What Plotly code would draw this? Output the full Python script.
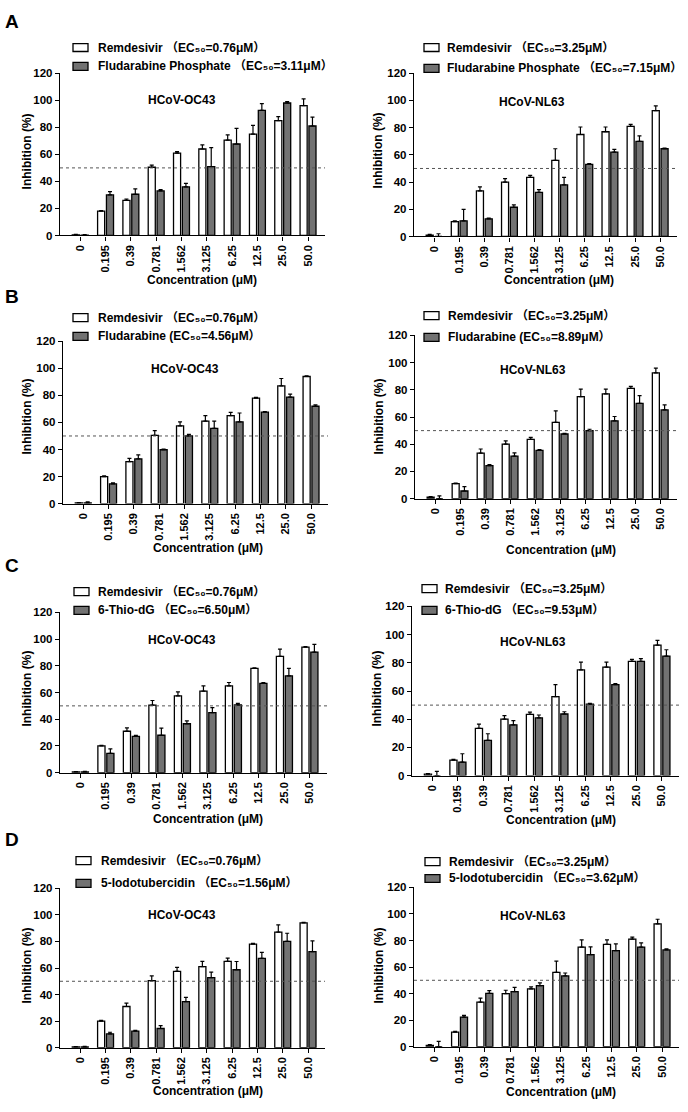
import plotly.graph_objects as go

# ---------------- data ----------------
conc = ["0", "0.195", "0.39", "0.781", "1.562", "3.125", "6.25", "12.5", "25.0", "50.0"]

rdv_oc43_A = [0.5, 18, 26, 50.5, 61, 64, 70.5, 75, 85, 96]
rdv_oc43_A_err = [0.3, 0.5, 1, 1.5, 1, 3, 4, 6.5, 3, 5]
fp_oc43 = [0.3, 30, 30.5, 33, 36, 51, 67.7, 92.5, 98, 81]
fp_oc43_err = [0.3, 2.5, 4, 1, 2.5, 14, 11.5, 5, 1, 6.5]

rdv_nl63 = [1, 11, 33.5, 40, 43.5, 56, 75, 77, 81, 92.5]
rdv_nl63_err = [0.5, 0.5, 3, 2.5, 1.5, 8.5, 5.5, 3.5, 1.5, 3.5]
fp_nl63 = [0, 11.5, 13, 21.5, 32.5, 38, 53, 62, 70, 64.5]
fp_nl63_err = [2, 8.5, 0.5, 1.7, 2, 5.5, 0.5, 2, 4, 0.5]

rdv_oc43 = [0.5, 20, 31, 50.5, 57.5, 61, 65, 78, 87, 94]
rdv_oc43_err = [0.3, 0.5, 2.5, 3.5, 3, 4, 2.5, 0.5, 5.5, 0.4]

flu_oc43 = [0.5, 14.6, 33, 39.8, 50, 55.6, 60.5, 67.6, 78.8, 72]
flu_oc43_err = [0.8, 0.8, 3, 0.5, 1.2, 5.4, 6.5, 0.5, 2.2, 1]
flu_nl63 = [0, 5.6, 24.3, 31.2, 35.5, 47.5, 50, 57.2, 70, 65.2]
flu_nl63_err = [2, 3.2, 0.7, 2.4, 0.5, 0.5, 1, 3.2, 5.7, 3.7]

tdg_oc43 = [0.5, 14.4, 27.2, 28, 36.6, 45, 50.7, 66.8, 72.5, 90.3]
tdg_oc43_err = [0.5, 3.4, 0.7, 5.4, 2.2, 3.7, 1.2, 0.7, 5.5, 5.7]
tdg_nl63 = [0, 9.6, 25, 36, 41, 43.7, 50.7, 64.6, 81, 84.8]
tdg_nl63_err = [3, 5.9, 4.7, 3, 2, 1.6, 0.5, 0.7, 2, 4.5]

itu_oc43 = [0.5, 10.4, 12.4, 14.4, 34.6, 52.7, 58.7, 67.3, 80, 72.3]
itu_oc43_err = [0.5, 1.2, 0.7, 2.2, 3.2, 4.2, 6.2, 4.5, 6.2, 8.2]
itu_nl63 = [0, 22.3, 40.2, 41.4, 45.9, 53.3, 69.4, 72.4, 75, 72.9]
itu_nl63_err = [4, 1.2, 2, 3.2, 2.2, 2.2, 5.7, 5, 3.2, 0.7]

y_ticks = [0, 20, 40, 60, 80, 100, 120]

rdv_label_oc43 = "Remdesivir （EC₅₀=0.76μM）"
rdv_label_nl63 = "Remdesivir （EC₅₀=3.25μM）"
cmp_labels = [
    "Fludarabine Phosphate （EC₅₀=3.11μM）",
    "Fludarabine Phosphate （EC₅₀=7.15μM）",
    "Fludarabine (EC₅₀=4.56μM）",
    "Fludarabine (EC₅₀=8.89μM）",
    "6-Thio-dG （EC₅₀=6.50μM）",
    "6-Thio-dG （EC₅₀=9.53μM）",
    "5-Iodotubercidin （EC₅₀=1.56μM）",
    "5-Iodotubercidin （EC₅₀=3.62μM）",
]
virus = ["HCoV-OC43", "HCoV-NL63"] * 4
panel_letters = ["A", "B", "C", "D"]

series = [
    (rdv_oc43_A, rdv_oc43_A_err, fp_oc43, fp_oc43_err),
    (rdv_nl63, rdv_nl63_err, fp_nl63, fp_nl63_err),
    (rdv_oc43, rdv_oc43_err, flu_oc43, flu_oc43_err),
    (rdv_nl63, rdv_nl63_err, flu_nl63, flu_nl63_err),
    (rdv_oc43, rdv_oc43_err, tdg_oc43, tdg_oc43_err),
    (rdv_nl63, rdv_nl63_err, tdg_nl63, tdg_nl63_err),
    (rdv_oc43, rdv_oc43_err, itu_oc43, itu_oc43_err),
    (rdv_nl63, rdv_nl63_err, itu_nl63, itu_nl63_err),
]

# ---------------- layout geometry (screen pixels) ----------------
W, H = 688, 1112
def px(x):
    return x / W
def py(y):
    return 1 - y / H

# plot area: x0, x1, ytop(120), ybottom(0)
areas = [
    (60, 325, 68, 232), (414, 677, 68, 233),
    (63, 328, 339, 503), (415, 677, 333, 498),
    (60, 327, 613, 775), (412, 679, 607, 778),
    (60, 325, 892, 1053), (414, 679, 891, 1052),
]
# legend: box x0, row1 center y, row2 center y, text x
legend_pos = [
    (73, 42, 61, 96), (424, 42, 63, 445),
    (73, 315, 334, 96), (424, 313, 335, 446),
    (74, 592, 611, 96), (422, 589, 611, 443),
    (76, 864, 887, 99), (425, 865, 882, 447),
]
title_pos = [(182, 95), (532, 97), (185, 367), (533, 368),
             (182, 641), (533, 643), (182, 919), (533, 920)]
ytitle_pos = [(27, 147), (378, 146), (27, 415), (379, 415),
              (27, 690), (377, 690), (27, 970), (379, 970)]
xtitle_pos = [(202, 277), (559, 277), (208, 548), (561, 550),
              (208, 822), (561, 823), (208, 1097), (561, 1098)]
letter_pos = [(3, 16), (3, 294), (3, 566), (3, 843)]

FONT = "Arial, Liberation Sans, DejaVu Sans, Noto Sans CJK SC, sans-serif"
GRAY = "#727272"

fig = go.Figure()
layout = dict(
    width=W, height=H,
    margin=dict(l=0, r=0, t=0, b=0),
    paper_bgcolor="white", plot_bgcolor="white",
    showlegend=False,
    barmode="group", bargap=0.3, bargroupgap=0.2,
    font=dict(family=FONT, color="black"),
)
annotations = []
shapes = []

def bold(size):
    return dict(family=FONT, size=size, color="black", weight="bold")

for i in range(8):
    k = "" if i == 0 else str(i + 1)
    xa, ya = "x" + k, "y" + k
    x0, x1, yt, yb = areas[i]
    r, rerr, c, cerr = series[i]
    fig.add_trace(go.Bar(
        x=conc, y=r, xaxis=xa, yaxis=ya,
        marker=dict(color="white", line=dict(color="black", width=1.3)),
        error_y=dict(type="data", symmetric=False, array=rerr,
                     arrayminus=[0] * len(rerr), color="black",
                     thickness=1.2, width=2),
    ))
    fig.add_trace(go.Bar(
        x=conc, y=c, xaxis=xa, yaxis=ya,
        marker=dict(color=GRAY, line=dict(color="black", width=1.3)),
        error_y=dict(type="data", symmetric=False, array=cerr,
                     arrayminus=[0] * len(cerr), color="black",
                     thickness=1.2, width=2),
    ))
    layout["xaxis" + k] = dict(
        domain=[px(x0), px(x1)], anchor=ya, type="category",
        categoryorder="array", categoryarray=conc,
        range=[-0.8, 9.67],
        showline=True, linecolor="black", linewidth=1.4,
        ticks="outside", ticklen=4, tickwidth=1.1, tickcolor="black",
        tickangle=-90, showgrid=False, zeroline=False,
        tickfont=bold(11),
    )
    layout["yaxis" + k] = dict(
        domain=[py(yb), py(yt)], anchor=xa, range=[0, 120],
        tickvals=y_ticks,
        showline=True, linecolor="black", linewidth=1.4,
        ticks="outside", ticklen=4, tickwidth=1.1, tickcolor="black",
        showgrid=False, zeroline=False,
        tickfont=bold(11.5),
    )
    shapes.append(dict(type="line", xref=xa + " domain", yref=ya,
                       x0=0, x1=1, y0=50, y1=50,
                       line=dict(color="#555555", width=1, dash="dot")))
    bx, r1, r2, tx = legend_pos[i]
    for yc, fill, lab in ((r1, "white", rdv_label_oc43 if i % 2 == 0 else rdv_label_nl63),
                          (r2, GRAY, cmp_labels[i])):
        shapes.append(dict(type="rect", xref="paper", yref="paper",
                           x0=px(bx), x1=px(bx + 15), y0=py(yc + 4), y1=py(yc - 4),
                           fillcolor=fill, line=dict(color="black", width=1.3)))
        annotations.append(dict(xref="paper", yref="paper", x=px(tx), y=py(yc),
                                xanchor="left", yanchor="middle", showarrow=False,
                                text=lab, font=bold(12)))
    tx_, ty_ = title_pos[i]
    annotations.append(dict(xref="paper", yref="paper", x=px(tx_), y=py(ty_),
                            xanchor="center", yanchor="middle", showarrow=False,
                            text=virus[i], font=bold(12)))
    ax_, ay_ = ytitle_pos[i]
    annotations.append(dict(xref="paper", yref="paper", x=px(ax_), y=py(ay_),
                            xanchor="center", yanchor="middle", showarrow=False,
                            text="Inhibition (%)", textangle=-90, font=bold(12)))
    cx_, cy_ = xtitle_pos[i]
    annotations.append(dict(xref="paper", yref="paper", x=px(cx_), y=py(cy_),
                            xanchor="center", yanchor="middle", showarrow=False,
                            text="Concentration (μM)", font=bold(12)))

for letter, (lx, ly) in zip(panel_letters, letter_pos):
    annotations.append(dict(xref="paper", yref="paper", x=px(lx), y=py(ly),
                            xanchor="left", yanchor="middle", showarrow=False,
                            text=letter, font=bold(19)))

layout["annotations"] = annotations
layout["shapes"] = shapes
fig.update_layout(**layout)
fig.write_html("out.html",
               config={"displayModeBar": False},
               post_script="document.body.style.margin='0';document.body.style.overflow='hidden';")
